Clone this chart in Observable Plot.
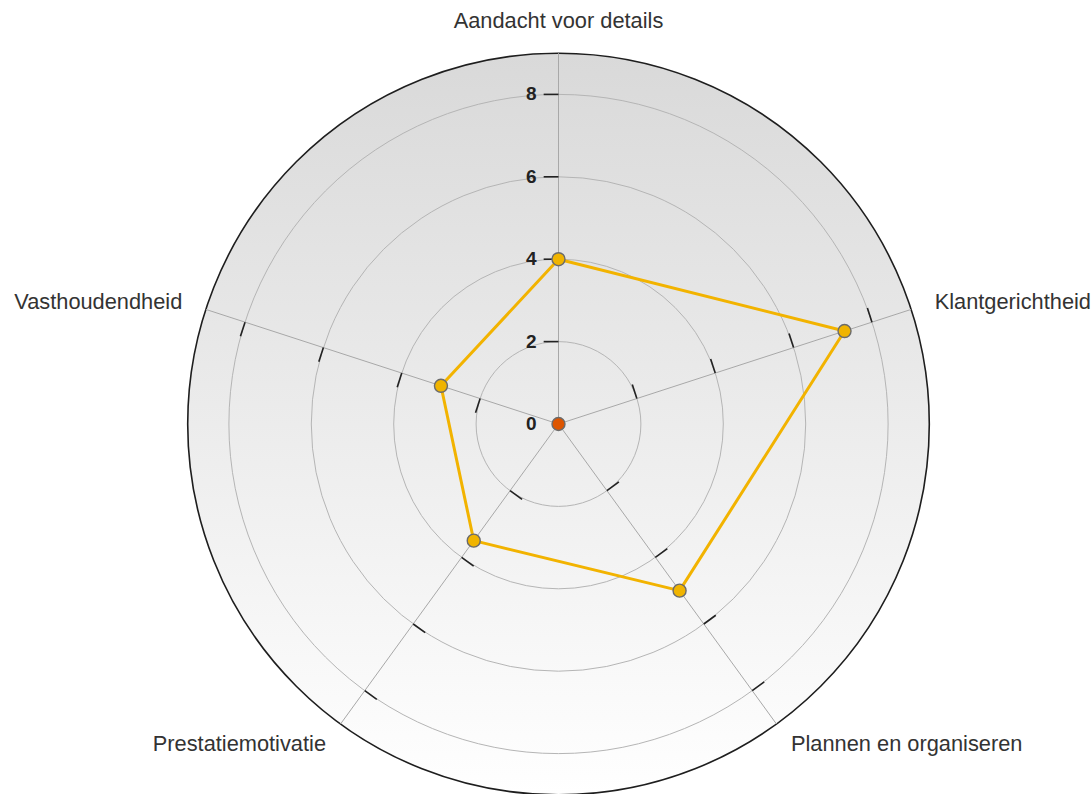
<!DOCTYPE html>
<html>
<head>
<meta charset="utf-8">
<script src="https://cdn.jsdelivr.net/npm/d3@7"></script>
<script src="https://cdn.jsdelivr.net/npm/@observablehq/plot@0.6"></script>
<style>
  html, body { margin: 0; padding: 0; background: #ffffff; }
  #chart svg { display: block; }
</style>
</head>
<body>
<div id="chart"></div>
<script>
// ---- data ----
const categories = ["Aandacht voor details", "Klantgerichtheid", "Plannen en organiseren", "Prestatiemotivatie", "Vasthoudendheid"];
const scores = [4, 7.3, 5, 3.5, 3];
const centerValue = [0];
const gridTicks = [2, 4, 6, 8];
const tickLabels = [0, 2, 4, 6, 8];
const maxValue = 9;

// ---- layout ----
const W = 1092, H = 794;
const cx = 558, cy = 423.5;   // pixel position of the centre
const k = 41.2;               // pixels per unit
const tickLen = 0.36;         // tick dash length in units
const labelR = 9.6;

const n = categories.length;
const axes = categories.map((c, i) => {
  const a = 2 * Math.PI * i / n;
  return {name: c, i, sin: Math.sin(a), cos: Math.cos(a)};
});
const series = axes.map((ax, i) => ({name: ax.name, v: scores[i], x: scores[i] * ax.sin, y: scores[i] * ax.cos}));
const tickDashes = axes.flatMap(ax => gridTicks.map(v => ({
  x1: v * ax.sin, y1: v * ax.cos,
  x2: v * ax.sin - tickLen * ax.cos, y2: v * ax.cos + tickLen * ax.sin
})));
const labelFont = "Liberation Sans, Arial, sans-serif";

const plot = Plot.plot({
  width: W,
  height: H,
  margin: 0,
  x: {domain: [-cx / k, (W - cx) / k], axis: null},
  y: {domain: [-(H - cy) / k, cy / k], axis: null},
  r: {type: "linear", domain: [0, maxValue], range: [0, maxValue * k]},
  style: {background: "#ffffff", overflow: "visible"},
  marks: [
    // background disc
    Plot.dot([maxValue], {x: () => 0, y: () => 0, r: d => d, fill: "url(#radarBg)", stroke: "#1e1e1e", strokeWidth: 1.6}),
    // grid rings
    Plot.dot(gridTicks, {x: () => 0, y: () => 0, r: d => d, fill: "none", stroke: "#b5b5b5", strokeWidth: 1}),
    // spokes
    Plot.link(axes, {x1: () => 0, y1: () => 0, x2: d => maxValue * d.sin, y2: d => maxValue * d.cos, stroke: "#a8a8a8", strokeWidth: 1}),
    // tick dashes
    Plot.link(tickDashes, {x1: "x1", y1: "y1", x2: "x2", y2: "y2", stroke: "#222", strokeWidth: 1.6}),
    // series polygon
    Plot.line(series, {x: "x", y: "y", curve: "linear-closed", stroke: "#f2b300", strokeWidth: 3}),
    Plot.dot(series, {x: "x", y: "y", r: 6.5, fill: "#f0b400", stroke: "#6b6b6b", strokeWidth: 1.4}),
    // centre point
    Plot.dot(centerValue, {x: () => 0, y: d => d, r: 6.5, fill: "#dd5500", stroke: "#6b6b6b", strokeWidth: 1.4}),
    // tick labels on first axis
    Plot.text(tickLabels, {x: () => -tickLen, y: d => d, text: d => String(d), textAnchor: "end", dx: -7, fontSize: 19, fontWeight: "bold", fontFamily: labelFont, fill: "#222"}),
    // category labels
    Plot.text(axes.filter(d => Math.abs(d.sin) < 1e-6), {x: d => labelR * d.sin, y: d => labelR * d.cos, text: "name", textAnchor: "middle", lineAnchor: "bottom", fontSize: 21.8, fontFamily: labelFont, fill: "#333"}),
    Plot.text(axes.filter(d => d.sin >= 1e-6), {x: d => labelR * d.sin, y: d => labelR * d.cos, text: "name", textAnchor: "start", lineAnchor: "middle", fontSize: 21.8, fontFamily: labelFont, fill: "#333"}),
    Plot.text(axes.filter(d => d.sin <= -1e-6), {x: d => labelR * d.sin, y: d => labelR * d.cos, text: "name", textAnchor: "end", lineAnchor: "middle", fontSize: 21.8, fontFamily: labelFont, fill: "#333"})
  ]
});

// gradient definition for the disc
const ns = "http://www.w3.org/2000/svg";
const defs = document.createElementNS(ns, "defs");
const grad = document.createElementNS(ns, "linearGradient");
grad.setAttribute("id", "radarBg");
grad.setAttribute("x1", "0"); grad.setAttribute("y1", "0");
grad.setAttribute("x2", "0"); grad.setAttribute("y2", "1");
[["0%", "#d9d9d9"], ["100%", "#ffffff"]].forEach(([o, c]) => {
  const s = document.createElementNS(ns, "stop");
  s.setAttribute("offset", o); s.setAttribute("stop-color", c);
  grad.appendChild(s);
});
defs.appendChild(grad);
plot.insertBefore(defs, plot.firstChild);

document.getElementById("chart").appendChild(plot);
</script>
</body>
</html>
